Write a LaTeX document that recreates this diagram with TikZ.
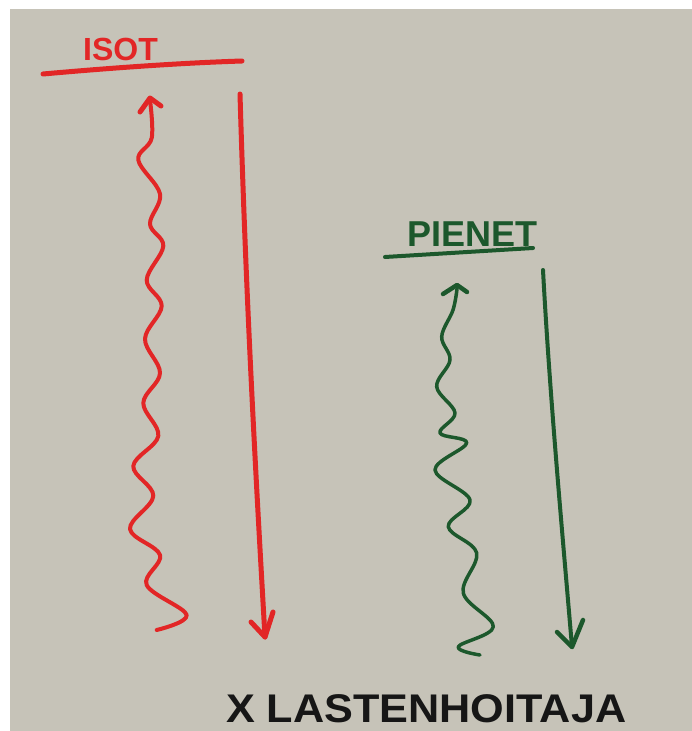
\documentclass[tikz,border=0pt]{standalone}
\usepackage{fontspec}
\setmainfont{Liberation Sans}
\definecolor{paper}{RGB}{198,195,184}
\definecolor{mred}{RGB}{226,38,38}
\definecolor{mgreen}{RGB}{28,88,44}
\definecolor{mink}{RGB}{22,22,22}
\tikzset{
  pen/.style={line width=#1, line cap=round, line join=round},
  label/.style={inner sep=0pt, anchor=base west, font=\bfseries}
}
\begin{document}
\begin{tikzpicture}[x=1pt,y=-1pt]
\useasboundingbox (0,0) rectangle (692,731);
\fill[white] (0,0) rectangle (692,731);
\fill[paper] (10,9) rectangle (692,731);
\clip (0,0) rectangle (692,731);

% ---- ISOT (red) ----
\node[label, text=mred, font=\bfseries\fontsize{32}{32}\selectfont] (isot) at (83,60) {ISOT};
\coordinate (isotL) at (43,74);
\coordinate (isotR) at (242,61);
\draw[mred, pen=5pt] (isotL) .. controls (110,68) and (180,63) .. (isotR);

% red wavy arrow (up)
\coordinate (rwTip) at (150,98);
\draw[mred, pen=4pt] plot[smooth, tension=0.6] coordinates {
 (156.7,630) (186.7,615) (146.7,585) (160,555) (130,529) (153.3,496)
 (133.3,466) (158.3,436) (143.3,403) (160,373) (145,339) (161.7,306)
 (146.7,280) (163.3,246) (150,224) (160,194) (138.3,160) (151.7,138) (150,100)};
\draw[mred, pen=5pt] (140,112) -- (rwTip) -- (161,106);

% red straight arrow (down)
\coordinate (rsTop) at (240,94);
\coordinate (rsTip) at (265,637);
\draw[mred, pen=5pt] (rsTop) .. controls (246,300) and (256,480) .. (rsTip);
\draw[mred, pen=5pt] (251,622) -- (rsTip) -- (273,612);

% ---- PIENET (green) ----
\node[label, text=mgreen, font=\bfseries\fontsize{36}{36}\selectfont] (pienet) at (407,246) {PIENET};
\coordinate (pienL) at (385,257);
\coordinate (pienR) at (533,248);
\draw[mgreen, pen=4pt] (pienL) -- (pienR);

% green wavy arrow (up)
\coordinate (gwTip) at (457,285);
\draw[mgreen, pen=3.5pt] plot[smooth, tension=0.6] coordinates {
 (480,655) (458.3,646.7) (493.3,626.7) (463.3,593) (476.7,553) (448.3,526.7)
 (470,500) (435,470) (466.7,443) (440,433) (455,413) (436.7,386.7)
 (450,360) (441.7,336.7) (453,310) (457,289)};
\draw[mgreen, pen=4.5pt] (443,294) -- (gwTip) -- (467,292);

% green straight arrow (down)
\coordinate (gsTop) at (543,270);
\coordinate (gsTip) at (572,647);
\draw[mgreen, pen=4pt] (gsTop) .. controls (550,400) and (563,540) .. (gsTip);
\draw[mgreen, pen=4.5pt] (557,632) -- (gsTip) -- (583,620);

% ---- bottom text ----
\node[label, text=mink, xscale=1.08, font=\bfseries\fontsize{40}{40}\selectfont] (lasten) at (226,722) {X LASTENHOITAJA};
\end{tikzpicture}
\end{document}
